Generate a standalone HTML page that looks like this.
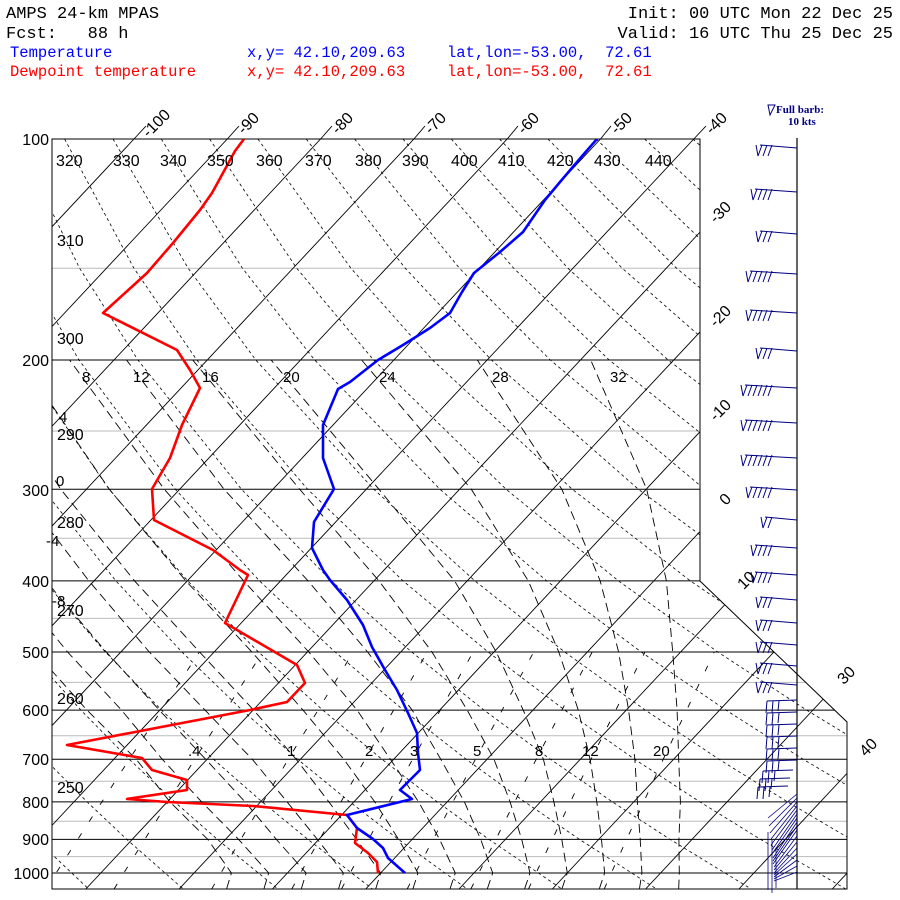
<!DOCTYPE html>
<html><head><meta charset="utf-8">
<style>
html,body{margin:0;padding:0;background:#fff;}
svg{display:block;}
text{white-space:pre;}
.hd{font-family:"Liberation Mono",monospace;font-size:17px;}
.hs{font-family:"Liberation Mono",monospace;font-size:15.5px;}
.lb{font-family:"Liberation Sans",sans-serif;fill:#000;}
</style></head>
<body>
<svg width="900" height="900" viewBox="0 0 900 900" xmlns="http://www.w3.org/2000/svg">
<defs>
<clipPath id="box"><path d="M52,139 L700,139 L700,581 L847,722 L847,889 L52,889 Z"/></clipPath>
<g id="b2"><path d="M0,0L-32,-3 M-30,-3l-4,11 M-25,-3l-4,11 M-34,8L-36,-3"/></g>
<g id="b3"><path d="M0,0L-37,-3 M-35,-3l-4,11 M-30,-3l-4,11 M-25,-3l-4,11 M-39,8L-41,-3"/></g>
<g id="b4"><path d="M0,0L-42,-3 M-40,-3l-4,11 M-35,-3l-4,11 M-30,-3l-4,11 M-25,-3l-4,11 M-44,8L-46,-3"/></g>
<g id="b5"><path d="M0,0L-47,-3 M-45,-3l-4,11 M-40,-3l-4,11 M-35,-3l-4,11 M-30,-3l-4,11 M-25,-3l-4,11 M-49,8L-51,-3"/></g>
<g id="b6"><path d="M0,0L-52,-3 M-50,-3l-4,11 M-45,-3l-4,11 M-40,-3l-4,11 M-35,-3l-4,11 M-30,-3l-4,11 M-25,-3l-4,11 M-54,8L-56,-3"/></g>
<g id="bl"><path d="M0,0L-30,1 M-30,1l-1,12 M-24,1l-1,12 M-18,1l-1,10"/></g>
</defs>
<rect width="900" height="900" fill="#fff"/>

<g clip-path="url(#box)" fill="none">
<path stroke="#bbbbbb" stroke-width="1" d="M52,268.2H860 M52,431H860 M52,538.3H860 M52,618.4H860 M52,682.4H860 M52,735.7H860 M52,781.3H860 M52,821.2H860 M52,856.6H860"/>
<path stroke="#000" stroke-width="1" d="M52,139H860 M52,360H860 M52,489.2H860 M52,580.9H860 M52,652H860 M52,710.1H860 M52,759.3H860 M52,801.9H860 M52,839.4H860 M52,873H860"/>
<path stroke="#000" stroke-width="0.9" d="M-660.6,889L40.7,139 M-567.3,889L134,139 M-474,889L227.3,139 M-380.7,889L320.6,139 M-287.4,889L413.9,139 M-194.1,889L507.2,139 M-100.8,889L600.5,139 M-7.5,889L693.8,139 M85.8,889L787.1,139 M179.1,889L880.4,139 M272.4,889L973.7,139 M365.7,889L1067,139 M459,889L1160.3,139 M552.3,889L1253.6,139 M645.6,889L1346.9,139 M738.9,889L1440.2,139 M832.2,889L1533.5,139"/>
<path stroke="#000" stroke-width="0.8" stroke-dasharray="3,3" d="
M-321.9,139L-300.2,268.2L-274.4,360L-221.6,489.2L-171.3,580.9L-124.2,652L-80.4,710.1L-39.3,759.3L-0.4,801.9L36.3,839.4L88.2,888.6
M-273.6,139L-245.9,268.2L-215.5,360L-155.5,489.2L-99.5,580.9L-47.7,652L0.2,710.1L45,759.3L87.1,801.9L126.8,839.4L182.8,888.6
M-225.3,139L-191.7,268.2L-156.6,360L-89.3,489.2L-27.7,580.9L28.9,652L80.9,710.1L129.2,759.3L174.7,801.9L217.4,839.4L277.4,888.6
M-177,139L-137.4,268.2L-97.7,360L-23.2,489.2L44.1,580.9L105.4,652L161.5,710.1L213.5,759.3L262.2,801.9L307.9,839.4L372,888.6
M-128.6,139L-83.2,268.2L-38.8,360L43,489.2L115.9,580.9L181.9,652L242.1,710.1L297.7,759.3L349.8,801.9L398.5,839.4L466.6,888.6
M-80.3,139L-28.9,268.2L20.1,360L109.1,489.2L187.7,580.9L258.5,652L322.8,710.1L382,759.3L437.3,801.9L489,839.4L561.3,888.6
M-32,139L25.4,268.2L79,360L175.3,489.2L259.5,580.9L335,652L403.4,710.1L466.2,759.3L524.8,801.9L579.5,839.4L655.9,888.6
M16.3,139L79.6,268.2L137.9,360L241.4,489.2L331.3,580.9L411.6,652L484,710.1L550.5,759.3L612.4,801.9L670.1,839.4L750.5,888.6
M64.6,139L133.9,268.2L196.8,360L307.6,489.2L403.1,580.9L488.1,652L564.7,710.1L634.7,759.3L699.9,801.9L760.6,839.4L845.1,888.6
M113,139L188.1,268.2L255.8,360L373.7,489.2L474.9,580.9L564.7,652L645.3,710.1L719,759.3L787.5,801.9L851.1,839.4L939.8,888.6
M161.3,139L242.4,268.2L314.7,360L439.9,489.2L546.7,580.9L641.2,652L725.9,710.1L803.2,759.3L875,801.9
M209.6,139L296.7,268.2L373.6,360L506,489.2L618.5,580.9L717.8,652L806.6,710.1L887.5,759.3
M257.9,139L350.9,268.2L432.5,360L572.2,489.2L690.4,580.9L794.3,652L887.2,710.1
M306.2,139L405.2,268.2L491.4,360L638.3,489.2L762.2,580.9L870.8,652
M354.6,139L459.4,268.2L550.3,360L704.5,489.2L834,580.9
M402.9,139L513.7,268.2L609.2,360L770.6,489.2L905.8,580.9
M451.2,139L567.9,268.2L668.1,360L836.7,489.2
M499.5,139L622.2,268.2L727.1,360L902.9,489.2
M547.9,139L676.5,268.2L786,360
M596.2,139L730.7,268.2L844.9,360
M644.5,139L785,268.2L903.8,360
M692.8,139L839.2,268.2"/>
<path stroke="#000" stroke-width="0.9" stroke-dasharray="6,14" d="
M46.1,889L56.1,873L129.3,759.3L199.4,652
M114.1,889L123.8,873L194.7,759.3L262.7,652
M211.7,889L220.9,873L288.3,759.3L353.2,652
M291.8,889L300.6,873L365.1,759.3L427.3,652
M341.5,889L350.1,873L412.6,759.3L473.2,652
M407.2,889L415.4,873L475.4,759.3L533.7,652
M470.9,889L478.8,873L536.2,759.3L592.2,652
M528.5,889L536,873L591,759.3L645,652
M604.2,889L611.3,873L663.2,759.3L714.3,652"/>
<path stroke="#000" stroke-width="0.9" stroke-dasharray="9,5" d="
M678.7,888.6L679.3,873L678.9,839.4L680.4,801.9L678.7,759.3L677.1,710.1L672.7,652L666.4,580.9L646.7,489.2L590.7,360
M639.5,888.6L641.9,873L640.2,839.4L637.4,801.9L634.9,759.3L628.6,710.1L618.6,652L600.2,580.9L561.8,489.2L477.3,360
M599.4,888.6L604.6,873L601.5,839.4L596.8,801.9L590.1,759.3L578.3,710.1L558.8,652L528.3,580.9L471.3,489.2L361.6,360
M562,888.6L567.3,873L561.8,839.4L553.9,801.9L543.4,759.3L523.2,710.1L496.3,652L454.6,580.9L378.9,489.2L271.1,360
M524.7,888.6L530,873L521.7,839.4L510.1,801.9L494,759.3L467.2,710.1L432,652L379,580.9L299.6,489.2L192.7,360
M487.4,888.6L492.7,873L480.7,839.4L464.4,801.9L440.8,759.3L412.2,710.1L367.6,652L308.1,580.9L224,489.2L126.5,360
M450.1,888.6L455.3,873L439.6,839.4L418.6,801.9L390.4,759.3L357.1,710.1L308.8,652L243.7,580.9L164.3,489.2L69.6,360
M413,888.6L418,873L398.6,839.4L374.8,801.9L343.8,759.3L303,710.1L251.9,652L185.9,580.9L109.3,489.2L21.1,360
M375.8,888.6L380.7,873L356.6,839.4L328.9,801.9L296.2,759.3L253.6,710.1L199.6,652L134.6,580.9L60.7,489.2L-21.9,360
M338.6,888.6L343.4,873L317.4,839.4L287.1,801.9L252.3,759.3L205,710.1L149.3,652L88.9,580.9L18.8,489.2
M301.4,888.6L306.1,873L276.4,839.4L245.1,801.9L205.7,759.3L159.3,710.1L106.3,652L45.9,580.9
M264,888.6L268.7,873L238.6,839.4L201.7,801.9L162.3,759.3L121.5,710.1L67.6,652L10,580.9
M226.7,888.6L231.4,873L207.8,839.4L170,801.9L136.2,759.3L87,710.1L35,652"/>
</g>

<path d="M52,139 L700,139 L700,581 L847,722 L847,889 L52,889 Z" fill="none" stroke="#000" stroke-width="1"/>
<path stroke="#000" stroke-width="0.9" fill="none" d="M134,139L146,126 M227.3,139L239,126 M320.6,139L332,126 M413.9,139L425,126 M507.2,139L518,126 M600.5,139L611,126 M693.8,139L706,126"/>

<g clip-path="url(#box)" fill="none" stroke-linejoin="round">
<polyline stroke="#ff0000" stroke-width="2.6" points="244,139 235,151 212,193 200,210 173,243 147,273 103,313 177,350 190,370 200,388 182,425 170,458 152,489 154,520 213,550 240,570 248,575 225,623 297,665 305,683 287,702 250,710 67,745 142,758 152,770 187,780 187,790 127,799 167,802 253,806 347,815 357,828 355,843 368,853 377,862 378,873"/>
<polyline stroke="#0000ff" stroke-width="2.6" points="597,139 583,155 560,182 545,200 523,232 500,252 474,273 462,292 450,313 430,328 403,345 378,360 350,382 338,389 323,425 323,458 334,489 314,522 312,548 323,570 330,580 347,600 363,625 372,647 385,670 397,690 408,713 417,733 418,753 420,770 400,790 412,799 347,815 357,828 373,839 383,848 388,858 405,873"/>
</g>

<path d="M797,138V889" stroke="#000" stroke-width="1.2"/>
<g fill="none" stroke="#000080" stroke-width="1">
<use href="#b3" x="797" y="148"/>
<use href="#b4" x="797" y="192"/>
<use href="#b3" x="797" y="234"/>
<use href="#b5" x="797" y="274"/>
<use href="#b5" x="797" y="313"/>
<use href="#b3" x="797" y="351"/>
<use href="#b6" x="797" y="388"/>
<use href="#b6" x="797" y="423"/>
<use href="#b6" x="797" y="458"/>
<use href="#b5" x="797" y="490"/>
<use href="#b2" x="797" y="520"/>
<use href="#b4" x="797" y="548"/>
<use href="#b4" x="797" y="575"/>
<use href="#b3" x="797" y="600"/>
<use href="#b3" x="797" y="623"/>
<use href="#b3" x="797" y="645"/>
<use href="#b3" x="797" y="666"/>
<use href="#b3" x="797" y="685"/>
<use href="#bl" x="797" y="700"/>
<use href="#bl" x="797" y="712"/>
<use href="#bl" x="797" y="724"/>
<use href="#bl" x="797" y="736"/>
<use href="#bl" x="797" y="748"/>
<use href="#bl" x="797" y="760"/>
<use href="#bl" x="793" y="770"/>
<use href="#bl" x="790" y="778"/>
<use href="#bl" x="788" y="786"/>
<path stroke-width="0.8" d="M797,794L768,818 M797,798L769,826 M797,802L770,833 M797,806L771,839 M797,810L771,845 M797,814L772,850 M797,818L772,854 M797,822L773,858 M797,826L773,861 M797,830L773,864 M797,836L774,867 M797,842L774,870 M797,848L774,873 M797,854L774,875 M797,860L774,877 M797,866L774,879 M797,872L774,881"/>
<path stroke-width="0.8" d="M768,832V890 M772,840V893 M776,848V888"/>
</g>

<text class="hd" x="6" y="18">AMPS 24-km MPAS</text>
<text class="hd" x="6" y="38">Fcst:   88 h</text>
<text class="hd" x="893" y="18" text-anchor="end">Init: 00 UTC Mon 22 Dec 25</text>
<text class="hd" x="893" y="38" text-anchor="end">Valid: 16 UTC Thu 25 Dec 25</text>
<g class="hs" fill="#0000ff">
<text x="10" y="57">Temperature</text>
<text x="247" y="57">x,y= 42.10,209.63</text>
<text x="447" y="57">lat,lon=-53.00,  72.61</text>
</g>
<g class="hs" fill="#ff0000">
<text x="10" y="76">Dewpoint temperature</text>
<text x="247" y="76">x,y= 42.10,209.63</text>
<text x="447" y="76">lat,lon=-53.00,  72.61</text>
</g>

<g class="lb" text-anchor="end" font-size="16">
<text x="49" y="145">100</text>
<text x="49" y="366">200</text>
<text x="49" y="496">300</text>
<text x="49" y="587">400</text>
<text x="49" y="658">500</text>
<text x="49" y="716">600</text>
<text x="49" y="765">700</text>
<text x="49" y="808">800</text>
<text x="49" y="845">900</text>
<text x="49" y="879">1000</text>
</g>

<g class="lb" text-anchor="middle" font-size="16">
<text transform="translate(160,127) rotate(-45)">-100</text>
<text transform="translate(252,127) rotate(-45)">-90</text>
<text transform="translate(346,127) rotate(-45)">-80</text>
<text transform="translate(439,127) rotate(-45)">-70</text>
<text transform="translate(532,127) rotate(-45)">-60</text>
<text transform="translate(625,127) rotate(-45)">-50</text>
<text transform="translate(720,127) rotate(-45)">-40</text>
<text transform="translate(724,216) rotate(-45)">-30</text>
<text transform="translate(724,320) rotate(-45)">-20</text>
<text transform="translate(724,414) rotate(-45)">-10</text>
<text transform="translate(729,503) rotate(-45)">0</text>
<text transform="translate(750,584) rotate(-45)">10</text>
<text transform="translate(850,679) rotate(-45)">30</text>
<text transform="translate(872,751) rotate(-45)">40</text>
</g>

<g class="lb" font-size="16">
<text x="56" y="166">320</text>
<text x="113" y="166">330</text>
<text x="160" y="166">340</text>
<text x="207" y="166">350</text>
<text x="256" y="166">360</text>
<text x="305" y="166">370</text>
<text x="355" y="166">380</text>
<text x="402" y="166">390</text>
<text x="451" y="166">400</text>
<text x="498" y="166">410</text>
<text x="547" y="166">420</text>
<text x="594" y="166">430</text>
<text x="645" y="166">440</text>
<text x="57" y="246">310</text>
<text x="57" y="344">300</text>
<text x="57" y="440">290</text>
<text x="57" y="528">280</text>
<text x="57" y="616">270</text>
<text x="57" y="704">260</text>
<text x="57" y="793">250</text>
</g>

<g class="lb" font-size="15">
<text x="82" y="382">8</text>
<text x="133" y="382">12</text>
<text x="202" y="382">16</text>
<text x="283" y="382">20</text>
<text x="379" y="382">24</text>
<text x="492" y="382">28</text>
<text x="610" y="382">32</text>
<text x="59" y="422">4</text>
<text x="56" y="486">0</text>
<text x="46" y="546">-4</text>
<text x="52" y="606">-8</text>
</g>

<g class="lb" font-size="15">
<text x="188" y="756">.4</text>
<text x="287" y="756">1</text>
<text x="365" y="756">2</text>
<text x="410" y="756">3</text>
<text x="473" y="756">5</text>
<text x="535" y="756">8</text>
<text x="582" y="756">12</text>
<text x="653" y="756">20</text>
</g>

<g fill="#000080" font-family="'Liberation Serif',serif" font-weight="bold" font-size="11">
<text x="776" y="113">Full barb:</text>
<text x="788" y="125">10 kts</text>
</g>
<path d="M775,105 L768,105 L770,115 Z" fill="none" stroke="#000080" stroke-width="1"/>
</svg>
</body></html>
